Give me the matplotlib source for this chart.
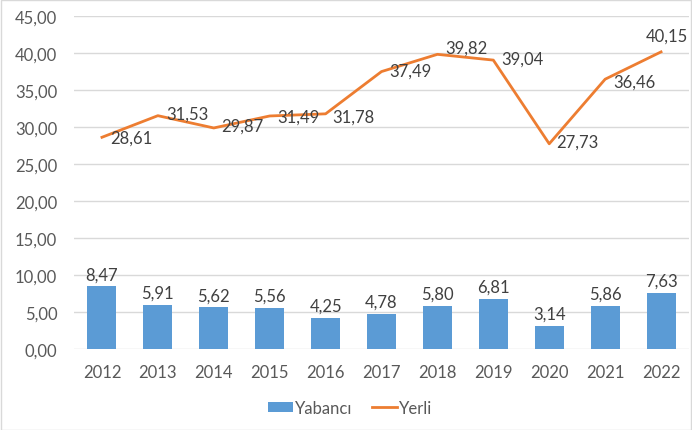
import numpy as np
import matplotlib
matplotlib.use("Agg")
import matplotlib.pyplot as plt
from matplotlib.patches import Rectangle

years = ["2012", "2013", "2014", "2015", "2016", "2017", "2018", "2019", "2020", "2021", "2022"]
yabanci = [8.47, 5.91, 5.62, 5.56, 4.25, 4.78, 5.80, 6.81, 3.14, 5.86, 7.63]
yerli = [28.61, 31.53, 29.87, 31.49, 31.78, 37.49, 39.82, 39.04, 27.73, 36.46, 40.15]

# label offsets for the line (pixels)
yerli_off = [(8, 0), (8, 2), (7, 2), (8, -1), (7, -3), (8, 1), (8, 7), (8, 1), (7, 2), (8, -2), (-15, 16)]

plt.rcParams['font.family'] = ['Lato', 'DejaVu Sans']
grey = "#595959"
fs = 12

fig = plt.figure(figsize=(6.92, 4.31), dpi=100)
fig.patches.append(Rectangle((0.001, 0.001), 0.997, 0.997, transform=fig.transFigure,
                             fill=False, edgecolor="#d9d9d9", linewidth=1))
ax = fig.add_axes([74 / 692, 1 - 350 / 431, 615 / 692, 333 / 431])

x = np.arange(len(years))
bars = ax.bar(x, yabanci, width=0.52, color="#5b9bd5", label="Yabancı", zorder=2)
line, = ax.plot(x, yerli, color="#ed7d31", linewidth=2, label="Yerli", zorder=3)

fmt = lambda v: f"{v:.2f}".replace(".", ",")
for xi, v in zip(x, yabanci):
    ax.annotate(fmt(v), (xi, v), xytext=(0, 3), textcoords="offset points",
                ha="center", va="bottom", fontsize=fs, color="#404040")
for xi, v, off in zip(x, yerli, yerli_off):
    ax.annotate(fmt(v), (xi, v), xytext=off, textcoords="offset pixels",
                ha="left", va="center", fontsize=fs, color="#404040")

ax.set_xlim(-0.5, len(years) - 0.5)
ax.set_ylim(0, 45)
ax.set_yticks(np.arange(0, 46, 5))
ax.set_yticklabels([fmt(v) for v in np.arange(0, 46, 5)])
ax.set_xticks(x)
ax.set_xticklabels(years)
ax.tick_params(axis="both", length=0, labelsize=fs, labelcolor=grey)
ax.tick_params(axis="x", pad=11)
ax.tick_params(axis="y", pad=12)
ax.grid(axis="y", color="#d9d9d9", linewidth=1, zorder=0)
for s in ax.spines.values():
    s.set_visible(False)

fig.legend([bars, line], ["Yabancı", "Yerli"], loc="center",
           bbox_to_anchor=(350 / 692, 1 - 409 / 431), ncol=2, frameon=False,
           fontsize=fs, labelcolor=grey, handlelength=1.5, handleheight=0.6,
           handletextpad=0.1, columnspacing=1.2)

fig.savefig("out.png", dpi=100)
